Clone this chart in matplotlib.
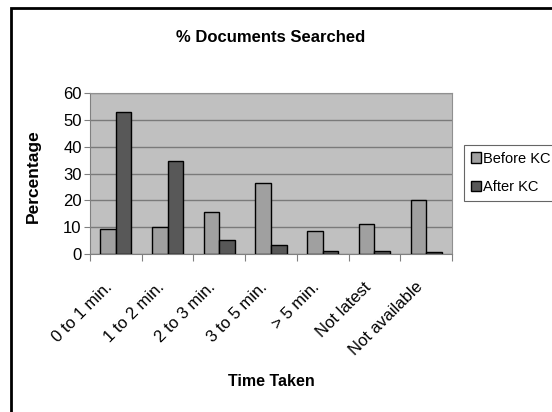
import numpy as np
import matplotlib
matplotlib.use("Agg")
import matplotlib.pyplot as plt
from matplotlib.patches import Rectangle
from matplotlib.transforms import ScaledTranslation

plt.rcParams['font.family'] = ['Liberation Sans', 'DejaVu Sans']

categories = ['0 to 1 min.', '1 to 2 min.', '2 to 3 min.', '3 to 5 min.',
              '> 5 min.', 'Not latest', 'Not available']
before_kc = [9.5, 10, 15.5, 26.5, 8.7, 11, 20]
after_kc = [53, 34.5, 5.3, 3.5, 1, 1, 0.6]
yticks = [0, 10, 20, 30, 40, 50, 60]

fig = plt.figure(figsize=(5.52, 4.12), dpi=100)
ax = fig.add_axes([90/552, 1 - 254/412, 362/552, 161/412])
ax.set_facecolor('#c0c0c0')

x = np.arange(len(categories))
w = 0.3
ax.bar(x - w/2, before_kc, w, color='#a0a0a0', edgecolor='black', linewidth=1.0,
       label='Before KC', zorder=3)
ax.bar(x + w/2, after_kc, w, color='#585858', edgecolor='black', linewidth=1.0,
       label='After KC', zorder=3)

ax.set_xlim(-0.5, len(categories) - 0.5)
ax.set_ylim(0, 60)
ax.set_yticks(yticks)
ax.yaxis.grid(True, color='#7a7a7a', linewidth=1.0, zorder=0)
ax.tick_params(axis='y', labelsize=12, length=4, color='#808080', pad=2)

# tick marks sit between categories, labels at category centers
ax.set_xticks(np.arange(len(categories) + 1) - 0.5)
ax.set_xticklabels([])
ax.set_xticks(x, minor=True)
ax.set_xticklabels(categories, minor=True, rotation=45, ha='right',
                   va='center', rotation_mode='anchor', fontsize=12)
ax.tick_params(axis='x', which='major', length=5, color='#808080')
ax.tick_params(axis='x', which='minor', length=0, pad=22)
shift = ScaledTranslation(-6/100, 0, fig.dpi_scale_trans)
for lbl in ax.get_xticklabels(minor=True):
    lbl.set_transform(lbl.get_transform() + shift)

for s in ['top', 'right']:
    ax.spines[s].set_color('#909090')
for s in ['left', 'bottom']:
    ax.spines[s].set_color('#808080')

fig.text(271/552, 1 - 37/412, '% Documents Searched', ha='center', va='center',
         fontsize=12, fontweight='bold')
fig.text(33/552, 1 - 176/412, 'Percentage', ha='center', va='center',
         rotation=90, fontsize=12.5, fontweight='bold')
fig.text(271/552, 1 - 382/412, 'Time Taken', ha='center', va='center',
         fontsize=11.5, fontweight='bold')

leg = fig.legend(loc='upper left', bbox_to_anchor=(464/552, 1 - 145/412),
                 fontsize=10.5, frameon=True, fancybox=False, handlelength=0.7,
                 handleheight=0.7, handletextpad=0.15, borderpad=0.45,
                 borderaxespad=0, labelspacing=1.0)
leg.get_frame().set_edgecolor('#404040')
leg.get_frame().set_linewidth(0.8)

# outer frame around the chart
fig.patches.append(Rectangle((11/552, -0.1), 1.2, 1 - 8/412 + 0.1,
                             transform=fig.transFigure, fill=False,
                             edgecolor='black', linewidth=2.0))

fig.savefig('out.png', dpi=100)
